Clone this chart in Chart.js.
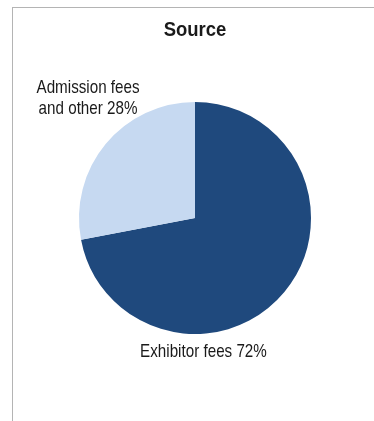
<!DOCTYPE html>
<html>
<head>
<meta charset="utf-8">
<script src="https://cdn.jsdelivr.net/npm/chart.js@4"></script>
<style>
  html, body { margin: 0; padding: 0; background: #fff; }
  #wrap { position: relative; width: 374px; height: 421px; overflow: hidden; }
  #frame {
    position: absolute; left: 12px; top: 7px; width: 400px; height: 450px;
    border-top: 1px solid #b4b4b4; border-left: 1px solid #b4b4b4;
  }
  canvas { position: absolute; left: 0; top: 0; }
</style>
</head>
<body>
<div id="wrap">
  <div id="frame"></div>
  <canvas id="pie" width="374" height="421"></canvas>
</div>
<script>
const FONT = "'Liberation Sans', Arial, sans-serif";
const NARROW = 0.8; // squeeze to look like Arial Narrow

// ---------- data ----------
const categories = ["Exhibitor fees", "Admission fees and other"];
const shares = [72, 28];
const labelLines = [["Exhibitor fees 72%"], ["Admission fees", "and other 28%"]];
const colors = ["#1f497d", "#c6d9f1"];
const titleText = "Source";

// label anchor (first baseline), as fractions of the radius from the pie centre
const labelSpots = [[0.073, 1.198], [-0.922, -1.078]];

function narrowText(ctx, text, x, y, squeeze) {
  ctx.save();
  ctx.translate(x, y);
  ctx.scale(squeeze, 1);
  ctx.fillText(text, 0, 0);
  ctx.restore();
}

// title + outside labels, drawn narrow
const sliceLabels = {
  id: "sliceLabels",
  afterDraw(chart) {
    const ctx = chart.ctx;
    const arcs = chart.getDatasetMeta(0).data;
    ctx.save();
    ctx.fillStyle = "#1a1a1a";
    ctx.textAlign = "center";
    ctx.textBaseline = "alphabetic";

    ctx.font = "bold 21px " + FONT;
    const a0 = arcs[0];
    narrowText(ctx, titleText, a0.x, 36, 0.88);

    ctx.font = "19px " + FONT;
    arcs.forEach((arc, i) => {
      const r = arc.outerRadius;
      const x = arc.x + labelSpots[i][0] * r;
      const y = arc.y + labelSpots[i][1] * r;
      labelLines[i].forEach((t, k) => narrowText(ctx, t, x, y + k * 21, NARROW));
    });
    ctx.restore();
  },
};

new Chart(document.getElementById("pie"), {
  type: "pie",
  data: {
    labels: categories,
    datasets: [{ data: shares, backgroundColor: colors, borderWidth: 0 }],
  },
  options: {
    responsive: false,
    animation: false,
    layout: { padding: { left: 79, right: 63, top: 102, bottom: 87 } },
    plugins: {
      legend: { display: false },
      tooltip: { enabled: false },
      title: { display: false },
    },
  },
  plugins: [sliceLabels],
});
</script>
</body>
</html>
